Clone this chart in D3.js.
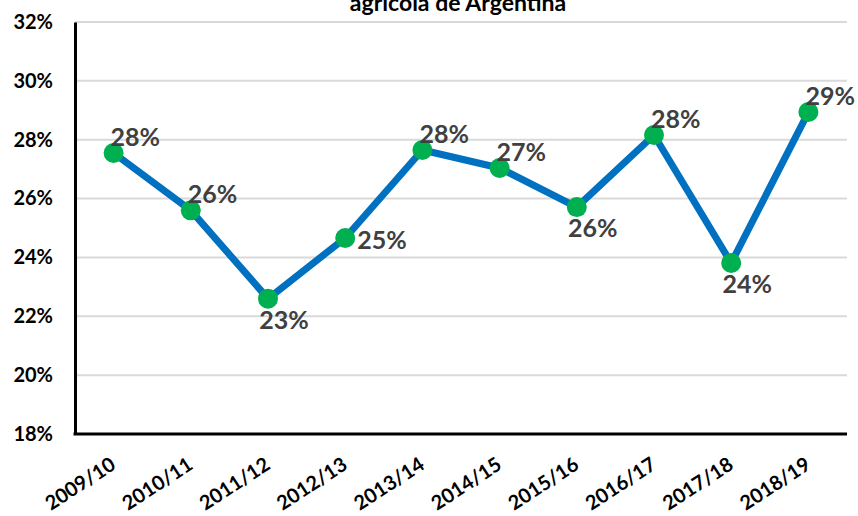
<!DOCTYPE html>
<html lang="es">
<head>
<meta charset="utf-8">
<title>agricola de Argentina</title>
<script src="https://d3js.org/d3.v7.min.js"></script>
<style>
  body { margin: 0; background: #fff; }
  text { font-family: Lato, "Open Sans", sans-serif; font-weight: bold; }
</style>
</head>
<body>
<script>
// data
var campaigns = ["2009/10", "2010/11", "2011/12", "2012/13", "2013/14",
                 "2014/15", "2015/16", "2016/17", "2017/18", "2018/19"];
var shares = [27.55, 25.6, 22.6, 24.66, 27.65, 27.04, 25.71, 28.16, 23.81, 28.94];
var labelPos = ["ar", "ar", "b", "r", "ar", "ar", "b", "ar", "b", "ar"];
var yTicks = [18, 20, 22, 24, 26, 28, 30, 32];

var W = 858, H = 516;
var m = {top: 22, right: 11, bottom: 82, left: 75};

var svg = d3.select("body").append("svg")
    .attr("width", W)
    .attr("height", H);

var x = d3.scalePoint()
    .domain(campaigns)
    .range([m.left, W - m.right])
    .padding(0.5);

var y = d3.scaleLinear()
    .domain([18, 32])
    .range([H - m.bottom, m.top]);

// title (only the last line is visible in the original)
svg.append("text")
    .attr("x", 458)
    .attr("y", 11)
    .attr("text-anchor", "middle")
    .style("font-size", "23px")
    .attr("fill", "#000")
    .text("agricola de Argentina");

// gridlines
svg.append("g")
    .selectAll("line")
    .data(yTicks.filter(d => d > 18))
    .enter().append("line")
      .attr("x1", m.left)
      .attr("x2", W - m.right)
      .attr("y1", d => y(d))
      .attr("y2", d => y(d))
      .attr("stroke", "#d9d9d9")
      .attr("stroke-width", 2);

// y axis
var yAxis = svg.append("g")
    .attr("transform", "translate(" + m.left + ",0)")
    .call(d3.axisLeft(y).tickValues(yTicks).tickFormat(d => d + "%").tickSize(0).tickPadding(22));
yAxis.select(".domain").attr("stroke", "#000").attr("stroke-width", 3);
yAxis.selectAll("text")
    .style("font-size", "20px")
    .style("font-family", "Lato, sans-serif")
    .style("font-weight", "bold")
    .attr("fill", "#000");

// x axis
var xAxis = svg.append("g")
    .attr("transform", "translate(0," + (H - m.bottom) + ")")
    .call(d3.axisBottom(x).tickSize(0).tickPadding(0));
xAxis.select(".domain").attr("stroke", "#000").attr("stroke-width", 3)
    .attr("d", "M" + (m.left - 1.5) + ",0H" + (W - m.right));
xAxis.selectAll("text")
    .style("font-size", "20px")
    .style("font-family", "Lato, sans-serif")
    .style("font-weight", "bold")
    .attr("fill", "#000")
    .attr("text-anchor", "end")
    .attr("dy", 0)
    .attr("transform", "translate(3,34) rotate(-33)");

// line
var line = d3.line()
    .x((d, i) => x(campaigns[i]))
    .y(d => y(d));

svg.append("path")
    .datum(shares)
    .attr("d", line)
    .attr("fill", "none")
    .attr("stroke", "#0070c0")
    .attr("stroke-width", 7)
    .attr("stroke-linejoin", "round");

// markers
svg.selectAll("circle.pt")
    .data(shares)
    .enter().append("circle")
      .attr("class", "pt")
      .attr("cx", (d, i) => x(campaigns[i]))
      .attr("cy", d => y(d))
      .attr("r", 10)
      .attr("fill", "#00b050");

// data labels
var off = {
  ar: {dx: -3, dy: -17, anchor: "start"},
  r:  {dx: 12, dy: 1,   anchor: "start"},
  b:  {dx: 16, dy: 20,  anchor: "middle"}
};

svg.selectAll("text.lbl")
    .data(shares)
    .enter().append("text")
      .attr("class", "lbl")
      .attr("x", (d, i) => x(campaigns[i]) + off[labelPos[i]].dx)
      .attr("y", (d, i) => y(d) + off[labelPos[i]].dy)
      .attr("text-anchor", (d, i) => off[labelPos[i]].anchor)
      .attr("dominant-baseline", "central")
      .style("font-size", "25px")
      .attr("fill", "#404040")
      .text(d => Math.round(d) + "%");
</script>
</body>
</html>
